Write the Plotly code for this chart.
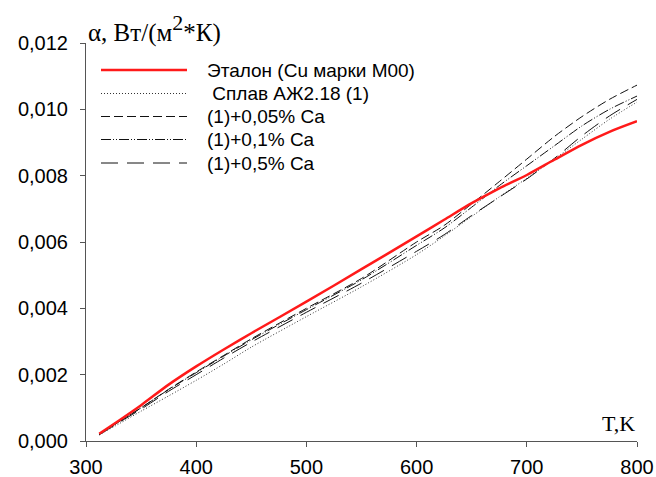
import plotly.graph_objects as go

# Temperature grid, K
T = [312, 330, 350, 375, 400, 425, 450, 500, 550, 600, 625, 650, 675, 700, 725, 750, 775, 800]

# Heat transfer coefficient, W/(m2*K)
etalon = [0.00022, 0.00062, 0.00108, 0.00170, 0.00225, 0.00276, 0.00325, 0.00420, 0.00518,
          0.00617, 0.00667, 0.00717, 0.00762, 0.00802, 0.00848, 0.00893, 0.00932, 0.00964]
alloy = [0.00018, 0.00052, 0.00090, 0.00136, 0.00183, 0.00232, 0.00283, 0.00375, 0.00465,
         0.00562, 0.00618, 0.00677, 0.00736, 0.00792, 0.00850, 0.00910, 0.00970, 0.01022]
ca005 = [0.00020, 0.00058, 0.00100, 0.00156, 0.00208, 0.00258, 0.00308, 0.00400, 0.00490,
         0.00600, 0.00650, 0.00715, 0.00782, 0.00850, 0.00918, 0.00978, 0.01030, 0.01073]
ca01 = [0.00020, 0.00058, 0.00100, 0.00155, 0.00206, 0.00256, 0.00305, 0.00396, 0.00486,
        0.00590, 0.00642, 0.00705, 0.00770, 0.00830, 0.00890, 0.00950, 0.01000, 0.01040]
ca05 = [0.00019, 0.00056, 0.00096, 0.00150, 0.00200, 0.00250, 0.00298, 0.00388, 0.00476,
        0.00572, 0.00622, 0.00680, 0.00735, 0.00790, 0.00852, 0.00920, 0.00980, 0.01030]

names = ["Эталон (Cu марки М00)", " Сплав АЖ2.18 (1)", "(1)+0,05% Ca", "(1)+0,1% Ca", "(1)+0,5% Ca"]
series = [etalon, alloy, ca005, ca01, ca05]
styles = [
    dict(color="#ff1a1a", width=2.5, dash="solid"),
    dict(color="#333333", width=1, dash="1px,2px"),
    dict(color="#111111", width=1, dash="9px,4px"),
    dict(color="#111111", width=1, dash="10px,2px,1px,2px,1px,2px"),
    dict(color="#111111", width=1, dash="17px,9px"),
]

# plot area in pixels
PL, PR, PT, PB = 86, 637, 43, 441

fig = go.Figure()
# black curves first, reference curve on top
for i in [1, 2, 3, 4, 0]:
    fig.add_trace(go.Scatter(x=T, y=series[i], mode="lines", name=names[i],
                             line=dict(shape="spline", smoothing=0.8, **styles[i]),
                             showlegend=False))


def px_x(x):
    return (x - PL) / (PR - PL)


def px_y(y):
    return 1 - (y - PT) / (PB - PT)


# Legend block: sample line + label per series
row_y = [70, 93.5, 116.5, 139.5, 163]
shapes = []
annotations = []
for i in range(5):
    yp = px_y(row_y[i])
    shapes.append(dict(type="line", xref="paper", yref="paper",
                       x0=px_x(101), x1=px_x(187), y0=yp, y1=yp, line=styles[i]))
    annotations.append(dict(text=names[i], xref="paper", yref="paper",
                            x=px_x(205), y=yp, xanchor="left", yanchor="middle",
                            showarrow=False,
                            font=dict(family="Liberation Sans, Arial", size=19, color="#000")))

annotations.append(dict(text='α, Вт/(м<sup><span style="font-size:22px">2</span></sup>*К)',
                        xref="paper", yref="paper",
                        x=px_x(86), y=1.0, xanchor="left", yanchor="bottom",
                        yshift=-6, showarrow=False,
                        font=dict(family="Liberation Serif, Times New Roman", size=25, color="#000")))
annotations.append(dict(text="T,K", xref="paper", yref="paper",
                        x=1.0, y=0, xanchor="right", yanchor="bottom", yshift=3,
                        showarrow=False,
                        font=dict(family="Liberation Serif, Times New Roman", size=22, color="#000")))

axis_font = dict(family="Liberation Sans, Arial", size=20, color="#000")
fig.update_layout(
    width=656, height=477,
    margin=dict(l=PL, r=656 - PR, t=PT, b=477 - PB, autoexpand=False),
    paper_bgcolor="white", plot_bgcolor="white",
    separators=", ",
    shapes=shapes, annotations=annotations,
    xaxis=dict(range=[300, 800], tickvals=[300, 400, 500, 600, 700, 800], automargin=False,
               showgrid=False, zeroline=False, showline=True, linecolor="#555", linewidth=1,
               ticks="outside", ticklen=5, tickcolor="#555", tickfont=axis_font,
               ticklabelstandoff=3),
    yaxis=dict(range=[0, 0.012], tickvals=[0, 0.002, 0.004, 0.006, 0.008, 0.010, 0.012],
               tickformat=".3f", automargin=False,
               showgrid=False, zeroline=False, showline=True, linecolor="#555", linewidth=1,
               ticks="outside", ticklen=5, tickcolor="#555", tickfont=axis_font,
               ticklabelstandoff=8),
)

fig.write_html("out.html")
